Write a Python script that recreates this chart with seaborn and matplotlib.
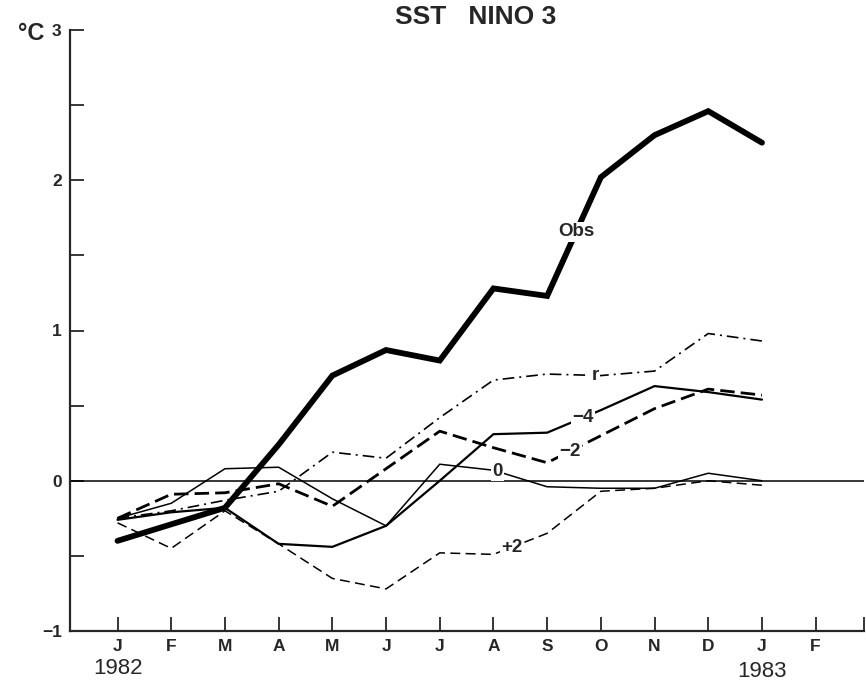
import numpy as np
import pandas as pd
import matplotlib
matplotlib.use("Agg")
import matplotlib.pyplot as plt
import seaborn as sns

# ---- data (SST anomaly, Nino 3, deg C) ----
month_labels = ["J", "F", "M", "A", "M", "J", "J", "A", "S", "O", "N", "D", "J", "F"]
month_index = list(range(13))  # Jan 1982 .. Jan 1983
year_labels = ["1982", "1983"]
ytick_values = [-1, 0, 1, 2, 3]
ytick_labels = ["\u22121", "0", "1", "2", "3"]

obs = [-0.40, -0.29, -0.18, 0.24, 0.70, 0.87, 0.80, 1.28, 1.23, 2.02, 2.30, 2.46, 2.25]
r_run = [-0.25, -0.20, -0.13, -0.07, 0.19, 0.15, 0.42, 0.67, 0.71, 0.70, 0.73, 0.98, 0.93]
lag_m4 = [-0.26, -0.21, -0.18, -0.42, -0.44, -0.30, 0.00, 0.31, 0.32, 0.47, 0.63, 0.59, 0.54]
lag_m2 = [-0.25, -0.09, -0.08, -0.02, -0.17, 0.08, 0.33, 0.22, 0.12, 0.30, 0.48, 0.61, 0.57]
lag_0 = [-0.25, -0.15, 0.08, 0.09, -0.12, -0.30, 0.11, 0.07, -0.04, -0.05, -0.05, 0.05, 0.00]
lag_p2 = [-0.28, -0.45, -0.20, -0.42, -0.65, -0.72, -0.48, -0.49, -0.35, -0.07, -0.05, 0.00, -0.03]

series_names = ["Obs", "r", "\u22124", "\u22122", "0", "+2"]
series_values = [obs, r_run, lag_m4, lag_m2, lag_0, lag_p2]

df = pd.DataFrame({
    "month": np.tile(month_index, len(series_names)),
    "sst": np.concatenate(series_values),
    "run": np.repeat(series_names, len(month_index)),
})

# ---- styling ----
sns.set_style("ticks")
FONT = ["Liberation Sans", "DejaVu Sans"]
plt.rcParams["font.family"] = FONT

styles = {
    "Obs": dict(lw=4.2, ls="-", lx=8.54),
    "r": dict(lw=1.2, ls=(0, (7, 3, 1.2, 3)), lx=8.89),
    "\u22124": dict(lw=1.6, ls="-", lx=8.67),
    "\u22122": dict(lw=2.0, ls=(0, (5.2, 2.2)), lx=8.43),
    "0": dict(lw=1.1, ls="-", lx=7.08),
    "+2": dict(lw=1.1, ls=(0, (6.5, 3.5)), lx=7.35),
}

fig = plt.figure(figsize=(8.66, 6.86), dpi=100)
ax = fig.add_axes([70 / 866, 1 - 631 / 686, (864 - 70) / 866, (631 - 30) / 686])

ax.axhline(0, color="black", lw=1.1, zorder=1)

for name, vals in zip(series_names, series_values):
    sub = df[df["run"] == name]
    st = styles[name]
    sns.lineplot(data=sub, x="month", y="sst", ax=ax, color="black",
                 linewidth=st["lw"], linestyle=st["ls"],
                 solid_joinstyle="miter", zorder=3)
    ly = float(np.interp(st["lx"], month_index, vals))
    ax.text(st["lx"], ly, name, ha="center", va="center", fontsize=13.5,
            fontweight="bold", family=FONT, zorder=5,
            bbox=dict(facecolor="white", edgecolor="none", pad=1.0))

ax.set_xlim(-0.885, 13.9)
ax.set_ylim(-1, 3)
ax.set_xticks(range(len(month_labels)))
ax.set_xticklabels(month_labels)
ax.set_xticks([13.9], minor=True)
ax.set_yticks(ytick_values)
ax.set_yticklabels(ytick_labels)
ax.set_yticks([-0.5, 0.5, 1.5, 2.5], minor=True)
ax.set_xlabel("")
ax.set_ylabel("")

for s in ["top", "right"]:
    ax.spines[s].set_visible(False)
for s in ["left", "bottom"]:
    ax.spines[s].set_linewidth(1.6)

ax.tick_params(axis="x", which="both", direction="in", length=10, width=1.3,
               pad=6, labelsize=12.5)
ax.tick_params(axis="y", which="both", direction="in", length=10, width=1.3,
               pad=6, labelsize=12.5)
for t in ax.get_xticklabels() + ax.get_yticklabels():
    t.set_fontweight("bold")

ax.text(0.0, -1.25, year_labels[0], ha="center", va="center", fontsize=16,
        clip_on=False)
ax.text(12.0, -1.27, year_labels[1], ha="center", va="center", fontsize=16,
        clip_on=False)

fig.text(31 / 866, 1 - 33 / 686, "°C", ha="center", va="center", fontsize=17,
         fontweight="bold")
fig.text(476 / 866, 1 - 17 / 686, "SST   NINO 3", ha="center", va="center",
         fontsize=19, fontweight="bold")

fig.savefig("out.png", dpi=100)
